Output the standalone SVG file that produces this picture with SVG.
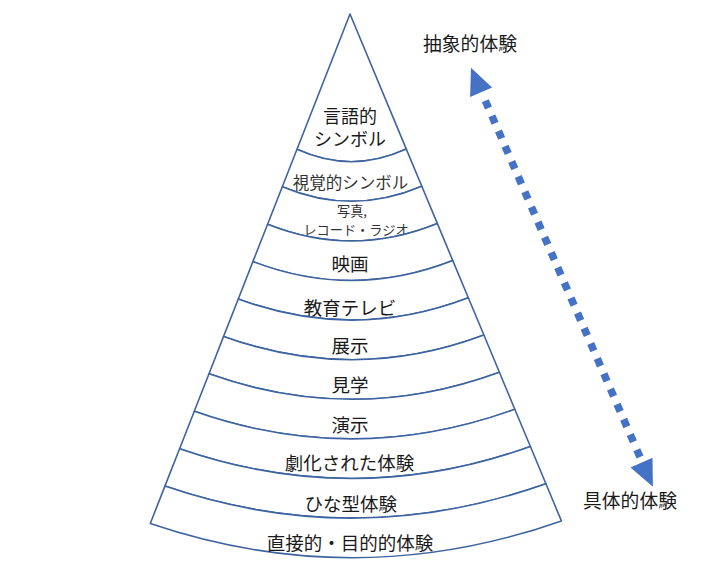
<svg xmlns="http://www.w3.org/2000/svg" width="704" height="567" viewBox="0 0 704 567">
<style>
.band{fill:#ffffff;stroke:#3E64A0;stroke-width:1.6;stroke-linejoin:round}
.lbl{font-family:"Noto Sans CJK JP","Noto Sans CJK SC",sans-serif;fill:#1a1a1a;text-anchor:middle;dominant-baseline:central}
.big{font-size:18.5px}
.top{font-size:18px}
.mid{font-size:16.5px;fill:#333}
.sml{font-size:13.2px;fill:#333}
.side{font-family:"Noto Sans CJK JP","Noto Sans CJK SC",sans-serif;font-size:18.8px;fill:#1a1a1a;text-anchor:middle;dominant-baseline:central}
.dots{stroke:#4472C4;stroke-width:7.5;stroke-dasharray:8 8.54;fill:none}
.head{fill:#4472C4}
</style>
<rect width="704" height="567" fill="#ffffff"/>
<g id="band1">
<path class="band" d="M350,14 L406.3,149.1 Q351.6,174.2 297,149.3 Z"/>
<text class="lbl top" x="350" y="114.5">言語的</text>
<text class="lbl top" x="350" y="138">シンボル</text>
</g>
<g id="band2">
<path class="band" d="M297,149.3 Q351.6,174.2 406.3,149.1 L421.8,186.3 Q352,216.1 282.3,186.7 Z"/>
<text class="lbl mid" x="350.5" y="182">視覚的シンボル</text>
</g>
<g id="band3">
<path class="band" d="M282.3,186.7 Q352,216.1 421.8,186.3 L437.3,223.4 Q352.4,258 267.6,224.2 Z"/>
<text class="lbl sml" x="352" y="210.5">写真,</text>
<text class="lbl sml" x="356" y="229.5">レコード・ラジオ</text>
</g>
<g id="band4">
<path class="band" d="M267.6,224.2 Q352.4,258 437.3,223.4 L452.8,260.6 Q352.9,299.9 252.9,261.6 Z"/>
<text class="lbl big" x="350" y="263.3">映画</text>
</g>
<g id="band5">
<path class="band" d="M252.9,261.6 Q352.9,299.9 452.8,260.6 L468.3,297.8 Q353.3,341.8 238.3,299 Z"/>
<text class="lbl big" x="350" y="306.7">教育テレビ</text>
</g>
<g id="band6">
<path class="band" d="M238.3,299 Q353.3,341.8 468.3,297.8 L483.9,335 Q353.8,383.7 223.6,336.4 Z"/>
<text class="lbl big" x="350" y="345">展示</text>
</g>
<g id="band7">
<path class="band" d="M223.6,336.4 Q353.8,383.7 483.9,335 L499.4,372.2 Q354.2,425.6 209,373.8 Z"/>
<text class="lbl big" x="350" y="384">見学</text>
</g>
<g id="band8">
<path class="band" d="M209,373.8 Q354.2,425.6 499.4,372.2 L514.8,409.3 Q354.6,467.5 194.3,411.3 Z"/>
<text class="lbl big" x="350" y="424">演示</text>
</g>
<g id="band9">
<path class="band" d="M194.3,411.3 Q354.6,467.5 514.8,409.3 L530.4,446.5 Q355,509.4 179.6,448.7 Z"/>
<text class="lbl big" x="349.5" y="461.7">劇化された体験</text>
</g>
<g id="band10">
<path class="band" d="M179.6,448.7 Q355,509.4 530.4,446.5 L545.9,483.7 Q355.4,551.3 164.9,486.1 Z"/>
<text class="lbl big" x="350.8" y="503">ひな型体験</text>
</g>
<g id="band11">
<path class="band" d="M164.9,486.1 Q355.4,551.3 545.9,483.7 L561.4,520.9 Q355.9,593.2 150.3,523.5 Z"/>
<text class="lbl big" x="350" y="541.5">直接的・目的的体験</text>
</g>
<g id="label-abstract">
<text class="side" x="470" y="42.5">抽象的体験</text>
</g>
<g id="label-concrete">
<text class="side" x="630" y="499">具体的体験</text>
</g>
<g id="connectors">
<line class="dots" x1="485.3" y1="100.7" x2="640" y2="457"/>
<polygon class="head" points="471,67.7 492.1,87.5 470.1,97.1"/>
<polygon class="head" points="652.9,486.8 652.5,457.8 630.5,467.4"/>
</g>
</svg>
